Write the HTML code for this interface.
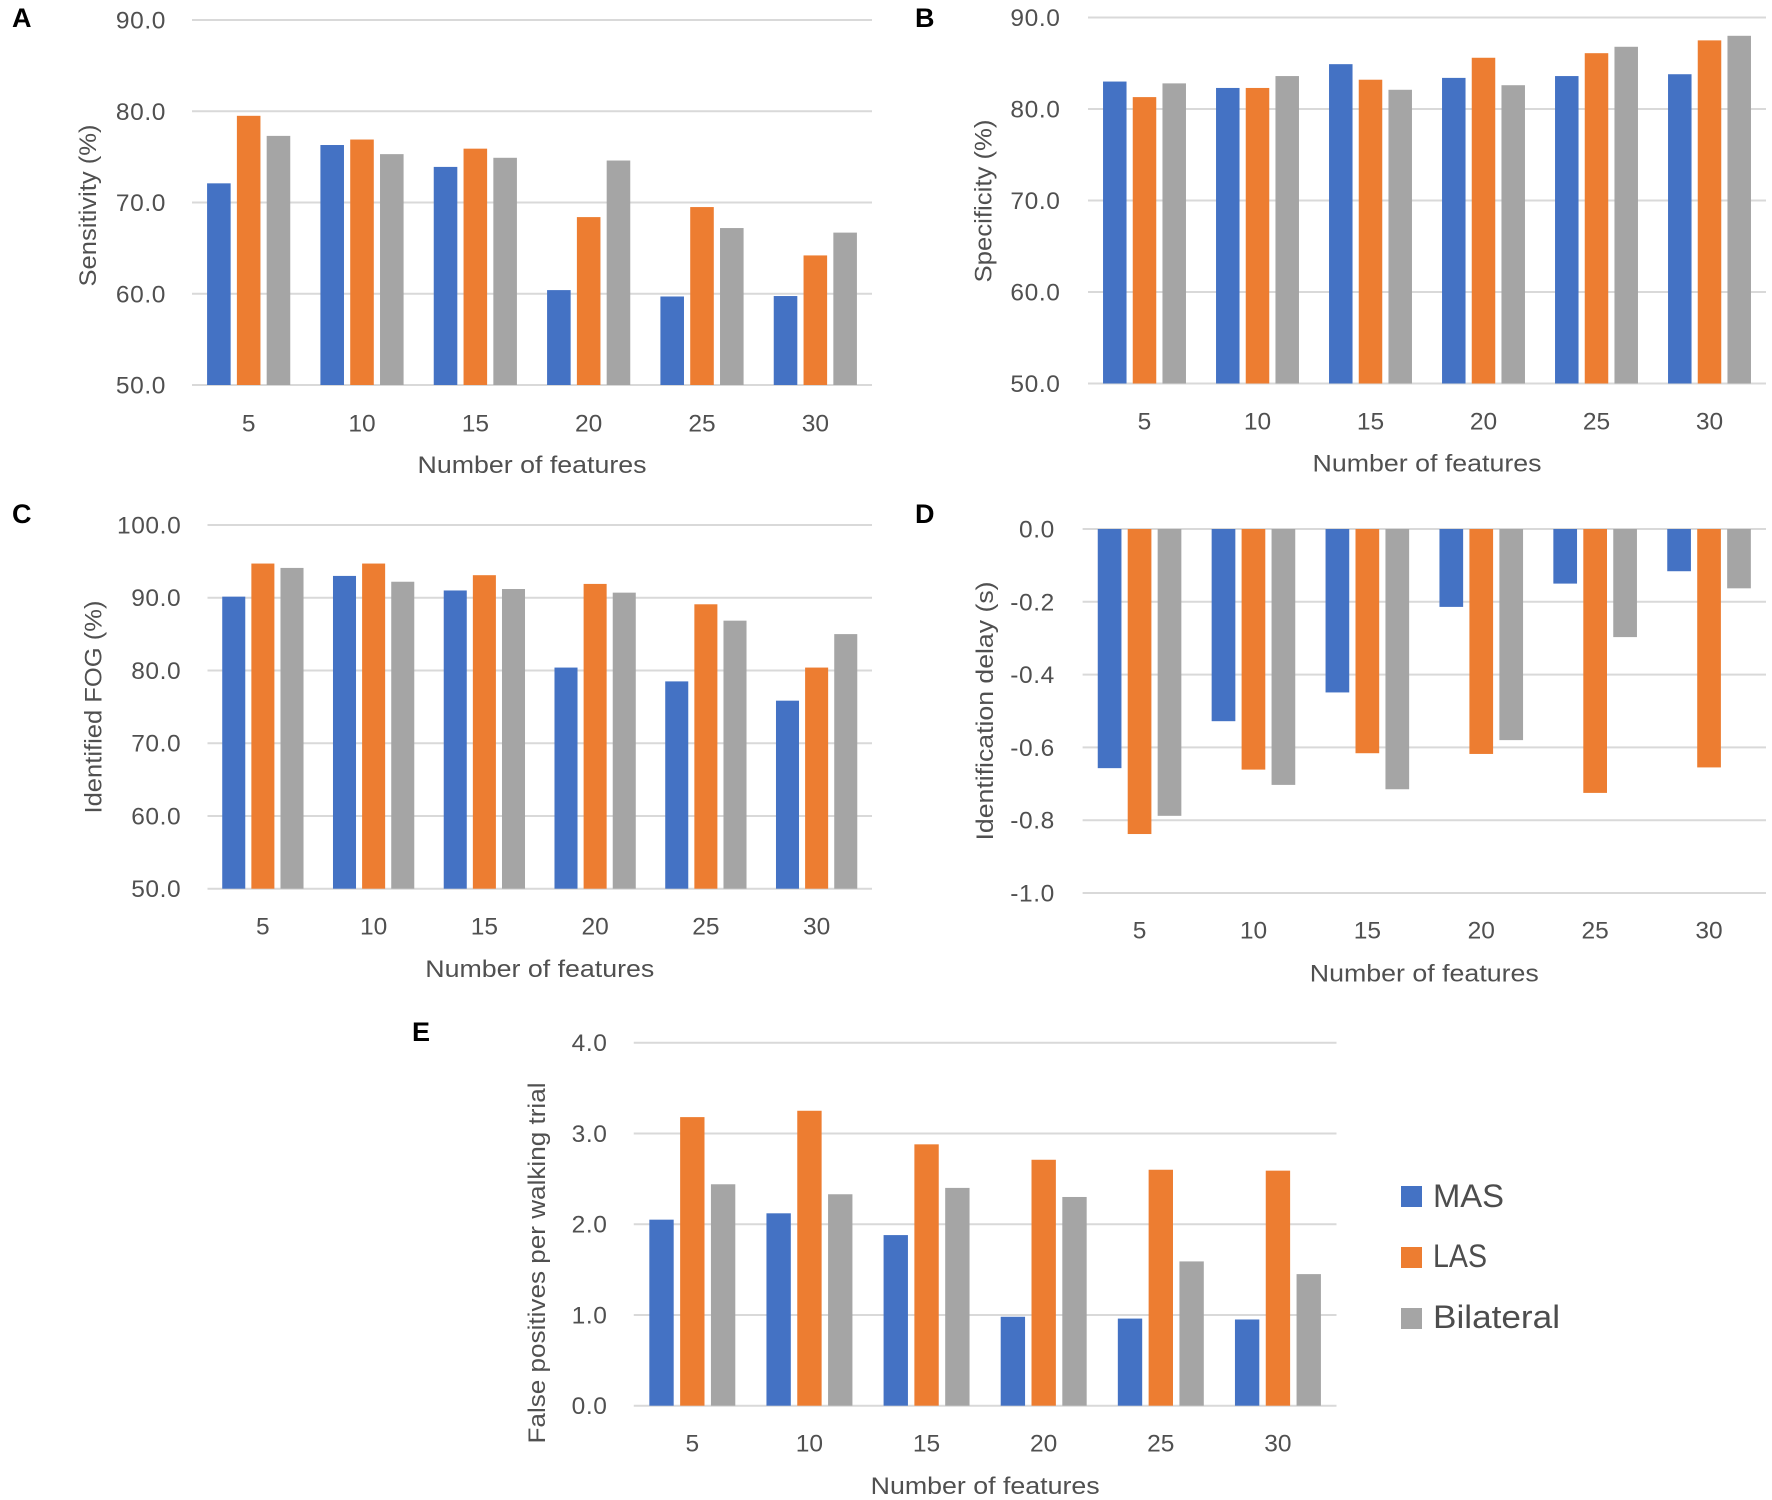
<!DOCTYPE html>
<html lang="en">
<head>
<meta charset="utf-8">
<title>Freezing of gait detection performance by number of features</title>
<style>
  html, body { margin: 0; padding: 0; background: #ffffff; }
  body { width: 1772px; height: 1500px; overflow: hidden; }
  svg { display: block; }
  text { font-family: "Liberation Sans", Arial, sans-serif; fill: #505050; }
  .tick { font-size: 24.5px; }
  .y-tick { letter-spacing: 0.6px; }
  .title { font-size: 24px; }
  .panel-letter { font-size: 27px; font-weight: bold; fill: #000000; }
  .legend-text { font-size: 32px; fill: #4d4d4d; }
</style>
</head>
<body>
<svg id="figure" xmlns="http://www.w3.org/2000/svg" width="1772" height="1500" viewBox="0 0 1772 1500">
  <rect x="0" y="0" width="1772" height="1500" fill="#ffffff"/>
  <text class="panel-letter" x="12" y="27">A</text>
  <text class="panel-letter" x="915" y="27">B</text>
  <text class="panel-letter" x="12" y="523">C</text>
  <text class="panel-letter" x="915" y="523">D</text>
  <text class="panel-letter" x="412" y="1041">E</text>
  <g>
    <rect x="1401" y="1186" width="21" height="21" fill="#4472c4"/>
    <text class="legend-text" x="1433" y="1207" textLength="71" lengthAdjust="spacingAndGlyphs">MAS</text>
    <rect x="1401" y="1247" width="21" height="21" fill="#ed7d31"/>
    <text class="legend-text" x="1433" y="1267" textLength="54" lengthAdjust="spacingAndGlyphs">LAS</text>
    <rect x="1401" y="1308" width="21" height="21" fill="#a5a5a5"/>
    <text class="legend-text" x="1433" y="1328" textLength="127" lengthAdjust="spacingAndGlyphs">Bilateral</text>
  </g>
</svg>
<script>
// ---- Data ----
const categories = ['5', '10', '15', '20', '25', '30'];
const seriesNames = ['MAS', 'LAS', 'Bilateral'];

const sensitivityTicks = ['50.0', '60.0', '70.0', '80.0', '90.0'];
const sensitivityMAS = [72.1, 76.3, 73.9, 60.4, 59.7, 59.75];
const sensitivityLAS = [79.5, 76.9, 75.9, 68.4, 69.5, 64.2];
const sensitivityBilateral = [77.3, 75.3, 74.9, 74.6, 67.2, 66.7];

const specificityTicks = ['50.0', '60.0', '70.0', '80.0', '90.0'];
const specificityMAS = [83.0, 82.3, 84.9, 83.4, 83.6, 83.8];
const specificityLAS = [81.3, 82.3, 83.2, 85.6, 86.1, 87.5];
const specificityBilateral = [82.8, 83.6, 82.1, 82.6, 86.8, 88.0];

const identifiedTicks = ['50.0', '60.0', '70.0', '80.0', '90.0', '100.0'];
const identifiedMAS = [90.15, 93.0, 91.0, 80.4, 78.5, 75.85];
const identifiedLAS = [94.7, 94.7, 93.1, 91.9, 89.1, 80.4];
const identifiedBilateral = [94.1, 92.2, 91.2, 90.7, 86.85, 85.0];

const delayTicks = ['-1.0', '-0.8', '-0.6', '-0.4', '-0.2', '0.0'];
const delayMAS = [-0.657, -0.528, -0.449, -0.214, -0.150, -0.116];
const delayLAS = [-0.838, -0.661, -0.616, -0.618, -0.725, -0.655];
const delayBilateral = [-0.788, -0.703, -0.715, -0.580, -0.297, -0.163];

const falsePositiveTicks = ['0.0', '1.0', '2.0', '3.0', '4.0'];
const falsePositiveMAS = [2.05, 2.12, 1.88, 0.98, 0.96, 0.95];
const falsePositiveLAS = [3.18, 3.25, 2.88, 2.71, 2.60, 2.59];
const falsePositiveBilateral = [2.44, 2.33, 2.40, 2.30, 1.59, 1.45];

// ---- Layout ----
const SVG_NS = 'http://www.w3.org/2000/svg';
const figure = document.getElementById('figure');
const seriesColors = ['#4472c4', '#ed7d31', '#a5a5a5'];
const BAR_WIDTH_FRACTION = 0.208;
const BAR_STEP_FRACTION = 0.263;

const panels = [
  { key: 'sensitivity', ticks: sensitivityTicks, series: [sensitivityMAS, sensitivityLAS, sensitivityBilateral],
    left: 192, right: 872, top: 20, bottom: 385, tickRight: 166, catBase: 431.5,
    xTitleBase: 473, xTitleWidth: 229, yTitle: 'Sensitivity (%)', yTitleX: 96, yTitleY: 205.5, yTitleLen: 162 },
  { key: 'specificity', ticks: specificityTicks, series: [specificityMAS, specificityLAS, specificityBilateral],
    left: 1088, right: 1766, top: 17.5, bottom: 383.5, tickRight: 1060.5, catBase: 429.5,
    xTitleBase: 471.5, xTitleWidth: 229, yTitle: 'Specificity (%)', yTitleX: 991.5, yTitleY: 201, yTitleLen: 163 },
  { key: 'identified-fog', ticks: identifiedTicks, series: [identifiedMAS, identifiedLAS, identifiedBilateral],
    left: 207.5, right: 872, top: 525, bottom: 888.7, tickRight: 181.3, catBase: 934.5,
    xTitleBase: 977, xTitleWidth: 229, yTitle: 'Identified FOG (%)', yTitleX: 101.5, yTitleY: 707, yTitleLen: 213 },
  { key: 'identification-delay', ticks: delayTicks, series: [delayMAS, delayLAS, delayBilateral],
    left: 1082.6, right: 1766, top: 529, bottom: 893, tickRight: 1054.9, catBase: 938.5,
    xTitleBase: 981.5, xTitleWidth: 229, yTitle: 'Identification delay (s)', yTitleX: 993, yTitleY: 711, yTitleLen: 259 },
  { key: 'false-positives', ticks: falsePositiveTicks, series: [falsePositiveMAS, falsePositiveLAS, falsePositiveBilateral],
    left: 633.75, right: 1336.5, top: 1042.7, bottom: 1405.7, tickRight: 607.5, catBase: 1451.5,
    xTitleBase: 1494, xTitleWidth: 229, yTitle: 'False positives per walking trial', yTitleX: 545, yTitleY: 1263, yTitleLen: 361 }
];

function makeYScale(panel) {
  const values = panel.ticks.map(Number);
  const min = Math.min.apply(null, values);
  const max = Math.max.apply(null, values);
  return function (v) {
    return panel.bottom - (v - min) / (max - min) * (panel.bottom - panel.top);
  };
}

function makeXScale(panel) {
  const band = (panel.right - panel.left) / categories.length;
  return {
    band: band,
    center: function (i) { return panel.left + band * (i + 0.5); }
  };
}

function drawPanel(panel) {
  const y = makeYScale(panel);
  const x = makeXScale(panel);

  const group = document.createElementNS(SVG_NS, 'g');
  
  
  figure.appendChild(group);

  panel.ticks.forEach(function (label) {
    const value = Number(label);
    const gy = y(value);

    const line = document.createElementNS(SVG_NS, 'line');
    
    
    line.setAttribute('x1', panel.left);
    line.setAttribute('x2', panel.right);
    line.setAttribute('y1', gy);
    line.setAttribute('y2', gy);
    line.setAttribute('stroke', '#d9d9d9');
    line.setAttribute('stroke-width', '2');
    group.appendChild(line);

    const tick = document.createElementNS(SVG_NS, 'text');
    
    
    tick.setAttribute('class', 'tick y-tick');
    tick.setAttribute('x', panel.tickRight);
    tick.setAttribute('y', gy + 8.5);
    tick.setAttribute('text-anchor', 'end');
    tick.textContent = label;
    group.appendChild(tick);
  });

  const barWidth = x.band * BAR_WIDTH_FRACTION;
  const barStep = x.band * BAR_STEP_FRACTION;
  const zero = y(Math.max(Math.min.apply(null, panel.ticks.map(Number)), Math.min(0, Math.max.apply(null, panel.ticks.map(Number)))));

  panel.series.forEach(function (values, s) {
    values.forEach(function (value, i) {
      const cx = x.center(i) + (s - 1) * barStep;
      const vy = y(value);
      const bar = document.createElementNS(SVG_NS, 'rect');
      
      
      bar.setAttribute('x', cx - barWidth / 2);
      bar.setAttribute('y', Math.min(vy, zero));
      bar.setAttribute('width', barWidth);
      bar.setAttribute('height', Math.abs(zero - vy));
      bar.setAttribute('fill', seriesColors[s]);
      group.appendChild(bar);
    });
  });

  categories.forEach(function (label, i) {
    const cat = document.createElementNS(SVG_NS, 'text');
    
    
    cat.setAttribute('class', 'tick');
    cat.setAttribute('x', x.center(i));
    cat.setAttribute('y', panel.catBase);
    cat.setAttribute('text-anchor', 'middle');
    cat.textContent = label;
    group.appendChild(cat);
  });

  const xTitle = document.createElementNS(SVG_NS, 'text');
  
  
  xTitle.setAttribute('class', 'title');
  xTitle.setAttribute('x', (panel.left + panel.right) / 2);
  xTitle.setAttribute('y', panel.xTitleBase);
  xTitle.setAttribute('text-anchor', 'middle');
  xTitle.setAttribute('textLength', panel.xTitleWidth);
  xTitle.setAttribute('lengthAdjust', 'spacingAndGlyphs');
  xTitle.textContent = 'Number of features';
  group.appendChild(xTitle);

  const yTitle = document.createElementNS(SVG_NS, 'text');
  
  
  yTitle.setAttribute('class', 'title');
  yTitle.setAttribute('text-anchor', 'middle');
  yTitle.setAttribute('transform', 'translate(' + panel.yTitleX + ' ' + panel.yTitleY + ') rotate(-90)');
  yTitle.setAttribute('textLength', panel.yTitleLen);
  yTitle.setAttribute('lengthAdjust', 'spacingAndGlyphs');
  yTitle.textContent = panel.yTitle;
  group.appendChild(yTitle);
}

panels.forEach(drawPanel);
</script>
</body>
</html>
